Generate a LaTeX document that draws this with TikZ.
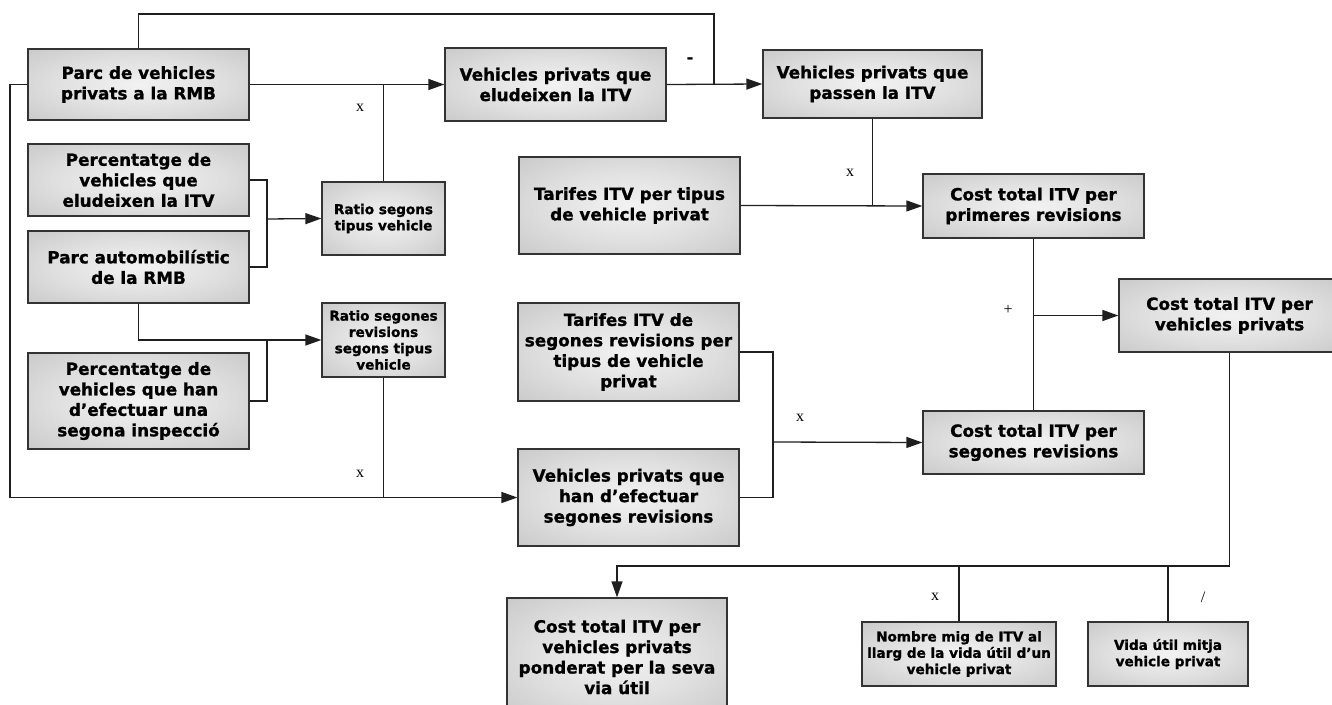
\documentclass[tikz,border=0pt]{standalone}
\usepackage{fontspec}
\setmainfont{Liberation Serif}
\newfontfamily\boxfnt{DejaVu Sans}[BoldFeatures={FakeBold=1.2}]
\usetikzlibrary{arrows.meta}
\pgfdeclareradialshading{boxshade}{\pgfpoint{0bp}{0bp}}{color(0bp)=(gray!10); color(18bp)=(gray!24); color(50bp)=(gray!56)}
\tikzset{
  box/.style={draw=black!80, line width=1.3pt, shading=boxshade, rectangle, align=center,
    inner sep=0pt, text=black, font=\boxfnt\bfseries\fontsize{16.8}{20.5}\selectfont},
  sbox/.style={box, font=\boxfnt\bfseries\fontsize{13.6}{16.3}\selectfont},
  conn/.style={draw=black!88, line width=1.3pt},
  arr/.style={conn, -{Triangle[length=16pt,width=11pt]}},
  lbl/.style={font=\fontsize{16}{16}\selectfont, inner sep=0pt},
  sz/.style n args={2}{minimum width=#1pt, minimum height=#2pt}
}
\begin{document}
\begin{tikzpicture}[x=1pt,y=-1pt]
\useasboundingbox (0,0) rectangle (1332,704);
% boxes
\node[box, sz={221}{71}] (n1) at (138.5,84.5) {Parc de vehicles\\privats a la RMB};
\node[box, sz={221}{72}] (n2) at (138.5,180) {Percentatge de\\vehicles que\\eludeixen la ITV};
\node[box, sz={221}{72}] (n3) at (138.5,267) {Parc automobilístic\\de la RMB};
\node[box, sz={221}{96}] (n4) at (138.5,401) {Percentatge de\\vehicles que han\\d’efectuar una\\segona inspecció};
\node[sbox, sz={123}{73}] (n5) at (383.5,218.5) {Ratio segons\\tipus vehicle};
\node[sbox, sz={123}{74}] (n6) at (383.5,340) {Ratio segones\\revisions\\segons tipus\\vehicle};
\node[box, sz={221}{73}] (n7) at (555.5,84.5) {Vehicles privats que\\eludeixen la ITV};
\node[box, sz={219}{68}] (n8) at (872.5,84) {Vehicles privats que\\passen la ITV};
\node[box, sz={221}{97}] (n9) at (629.5,205.5) {Tarifes ITV per tipus\\de vehicle privat};
\node[box, sz={221}{64}] (n10) at (1033.5,206) {Cost total ITV per\\primeres revisions};
\node[box, sz={221}{73}] (n11) at (1229.5,315.5) {Cost total ITV per\\vehicles privats};
\node[box, sz={221}{98}] (n12) at (628.5,352) {Tarifes ITV de\\segones revisions per\\tipus de vehicle\\privat};
\node[box, sz={221}{97}] (n13) at (628.5,497.5) {Vehicles privats que\\han d’efectuar\\segones revisions};
\node[box, sz={221}{63}] (n14) at (1033.5,442.5) {Cost total ITV per\\segones revisions};
\node[box, sz={220}{118}] (n15) at (617,657) {Cost total ITV per\\vehicles privats\\ponderat per la seva\\via útil};
\node[sbox, sz={194}{64}] (n16) at (959,654) {Nombre mig de ITV al\\llarg de la vida útil d’un\\vehicle privat};
\node[sbox, sz={160}{64}] (n17) at (1168,654) {Vida útil mitja\\vehicle privat};
% junction coordinates
\coordinate (top1) at (714,14);
\coordinate (m1) at (267,219);
\coordinate (m2) at (267,340);
\coordinate (left1) at (10,84.5);
\coordinate (m3) at (773,442);
\coordinate (bl) at (1229,566);
% connectors
\draw[arr] (n1.east) -- (n7.west);
\draw[conn] (n5.north) -- (n5.north |- n1.east);
\draw[arr] (n7.east) -- (n8.west);
\draw[conn] (n1.north) |- (top1) -- (top1 |- n7.east);
\draw[conn] (n2.east) -| (m1);
\draw[conn] (n3.east) -| (m1);
\draw[arr] (m1) -- (n5.west);
\draw[arr] (n3.south) |- (n6.west);
\draw[conn] (n4.east) -| (m2);
\draw[arr] (n1.west) -- (left1) |- (n13.west);
\draw[conn] (n6.south) -- (n6.south |- n13.west);
\draw[arr] (n9.east) -- (n10.west);
\draw[conn] (n8.south) -- (n8.south |- n10.west);
\draw[conn] (n12.east) -| (m3);
\draw[conn] (n13.east) -| (m3);
\draw[arr] (m3) -- (n14.west);
\draw[conn] (n10.south) -- (n14.north);
\draw[arr] (n10.south |- n11.west) -- (n11.west);
\draw[arr] (n11.south) |- (n15.north |- bl) -- (n15.north);
\draw[conn] (n16.north) -- (n16.north |- bl);
\draw[conn] (n17.north) -- (n17.north |- bl);
% labels
\node[lbl, font=\boxfnt\bfseries\fontsize{15}{15}\selectfont] (lminus) at (690,60) {-};
\node[lbl] (lx1) at (360,108) {x};
\node[lbl] (lx2) at (850,173) {x};
\node[lbl] (lx3) at (360,474) {x};
\node[lbl] (lx4) at (800,418) {x};
\node[lbl] (lx5) at (935,597) {x};
\node[lbl] (lplus) at (1008,310) {+};
\node[lbl] (lslash) at (1203,597) {/};
\end{tikzpicture}
\end{document}
